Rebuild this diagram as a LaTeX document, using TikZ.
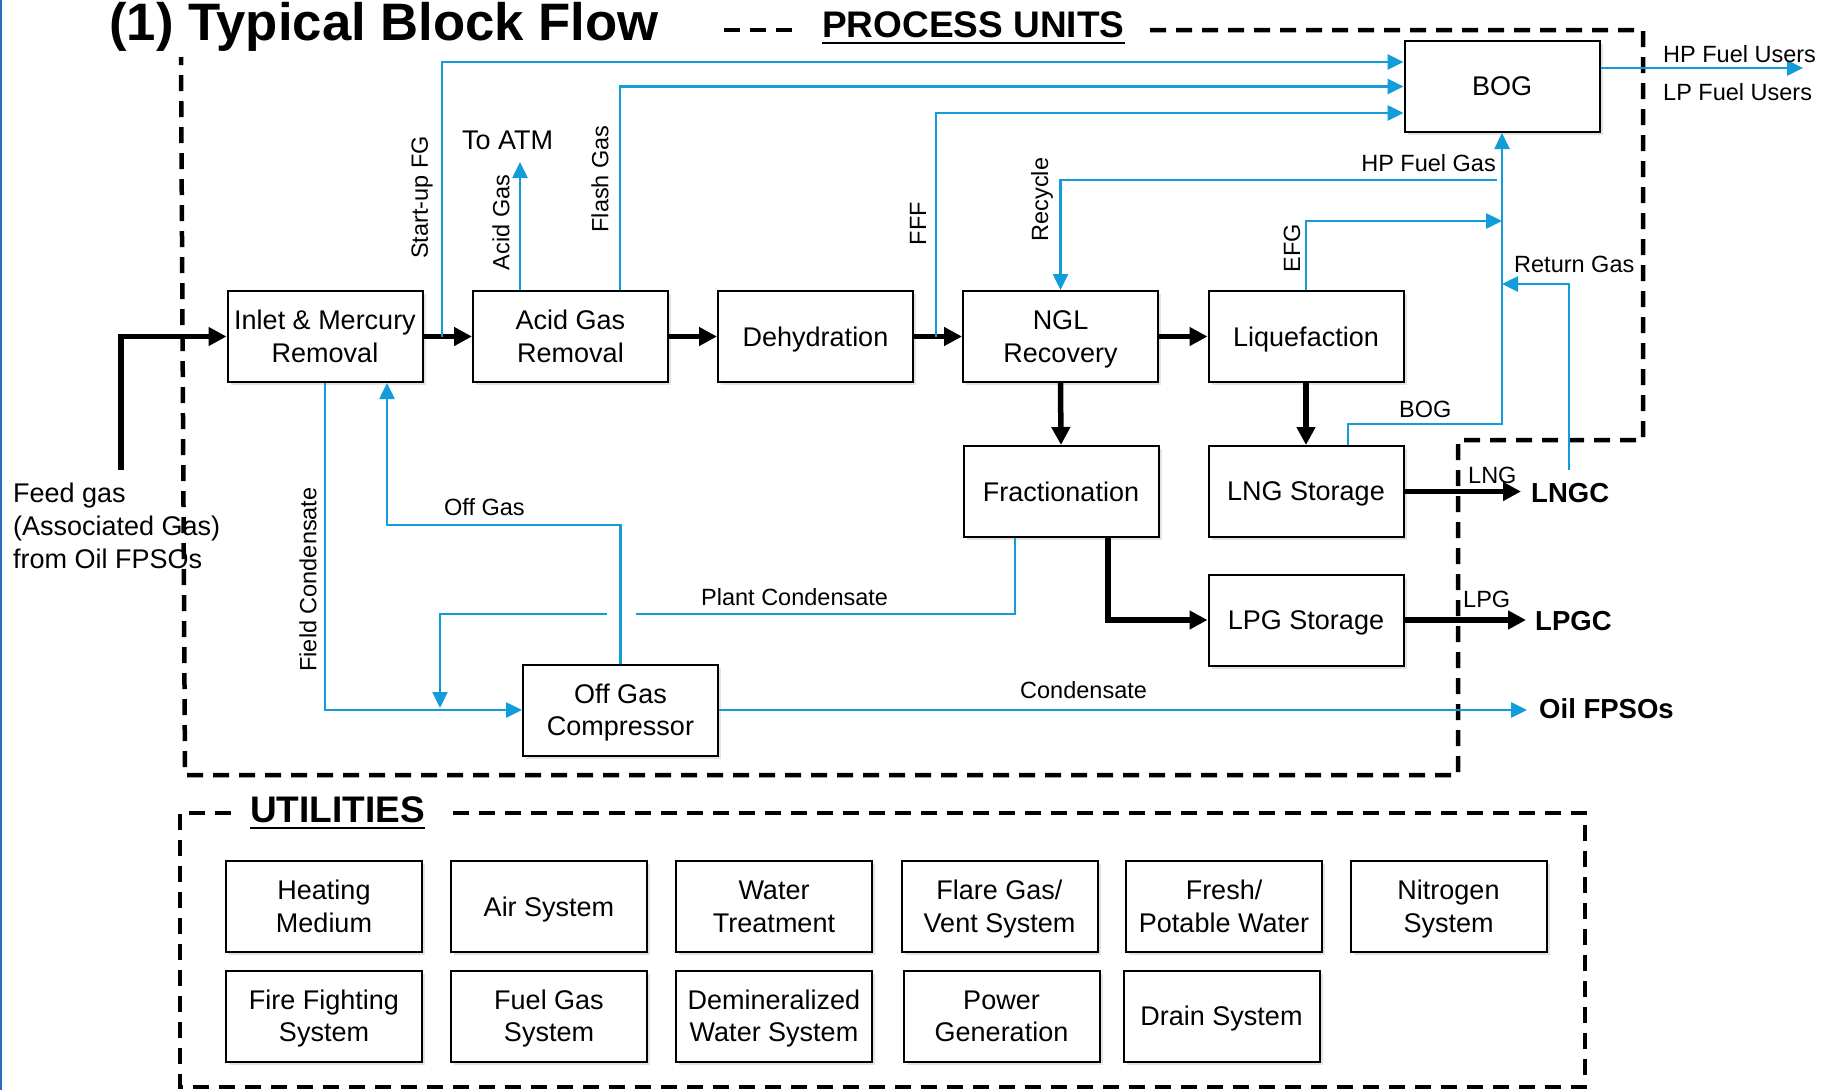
\documentclass[tikz,border=0pt]{standalone}
\usepackage{fontspec}
\setmainfont{Liberation Sans}
\usetikzlibrary{arrows.meta,shadows,calc}
\definecolor{flowblue}{RGB}{18,157,218}
\definecolor{edgeblue}{RGB}{40,110,190}
\newcommand\twoline[2]{\smash{#1}\rule{0pt}{19.3pt}\\\smash{#2}}
\begin{document}
\begin{tikzpicture}[x=1pt,y=-1pt,
  box/.style={draw=black,line width=2pt,fill=white,minimum width=195pt,minimum height=91pt,inner sep=2pt,align=center,
    font=\fontsize{27}{32.5}\selectfont,drop shadow={opacity=0.22,shadow xshift=3pt,shadow yshift=-3pt}},
  one/.style={text depth=0pt},
  ubox/.style={box,minimum width=196pt},
  lbl/.style={inner sep=0pt,font=\fontsize{23.5}{28}\selectfont},
  vlbl/.style={lbl,rotate=90},
  big/.style={inner sep=0pt,font=\bfseries\fontsize{27.5}{33}\selectfont},
  mainflow/.style={line width=5.5pt,-{Triangle[length=18pt,width=18pt]}},
  bflow/.style={draw=flowblue,line width=2.6pt,-{Triangle[length=16pt,width=15pt]}},
  bline/.style={draw=flowblue,line width=2.6pt},
  dashbox/.style={line width=4.5pt,dash pattern=on 16pt off 10pt},
  head/.style={inner sep=0pt,font=\bfseries\fontsize{37}{40}\selectfont},
]
\useasboundingbox (0,0) rectangle (1824,1090);
\draw[edgeblue,line width=2pt] (1,0) -- (1,1090);

% ---------- boundaries ----------
\draw[dashbox] (1150,30) -- (1643,30) -- (1643,440) -- (1458,440) -- (1458,775) -- (185,775) -- (181,57);
\draw[dashbox] (724,30) -- (802,30);
\draw[dashbox] (231,813) -- (180,813) -- (180,1087) -- (1585,1087) -- (1585,813) -- (448,813);

% ---------- titles ----------
\node[inner sep=0pt,anchor=base west,font=\bfseries\fontsize{52.7}{60}\selectfont] (title) at (109,40) {(1) Typical Block Flow};
\node[head,anchor=base west] (pu) at (822,37) {PROCESS UNITS};
\draw[line width=2.5pt] ([yshift=-6pt]pu.base west) -- ([yshift=-6pt]pu.base east);
\node[head,anchor=base west] (ut) at (250,822) {UTILITIES};
\draw[line width=2.5pt] ([yshift=-6pt]ut.base west) -- ([yshift=-6pt]ut.base east);

% ---------- process boxes ----------
\node[box] (inlet) at (325,336.5) {\twoline{Inlet \& Mercury}{Removal}};
\node[box] (agr) at (570.5,336.5) {\twoline{Acid Gas}{Removal}};
\node[box,one] (dehy) at (815.5,336.5) {Dehydration};
\node[box] (ngl) at (1060.5,336.5) {\twoline{NGL}{Recovery}};
\node[box,one] (liq) at (1306,336.5) {Liquefaction};
\node[box,one] (bog) at (1502,86.5) {BOG};
\node[box,one] (frac) at (1061,491.5) {Fractionation};
\node[box,one] (lngs) at (1306,491.5) {LNG Storage};
\node[box,one] (lpgs) at (1306,620) {LPG Storage};
\node[box] (ogc) at (620.5,710) {\twoline{Off Gas}{Compressor}};

% ---------- utility boxes ----------
\node[ubox] (u1) at (324,906.5) {\twoline{Heating}{Medium}};
\node[ubox,one] (u2) at (549,906.5) {Air System};
\node[ubox] (u3) at (774,906.5) {\twoline{Water}{Treatment}};
\node[ubox] (u4) at (999.5,906.5) {\twoline{Flare Gas/}{Vent System}};
\node[ubox] (u5) at (1224,906.5) {\twoline{Fresh/}{Potable Water}};
\node[ubox] (u6) at (1448.5,906.5) {\twoline{Nitrogen}{System}};
\node[ubox] (u7) at (324,1016) {\twoline{Fire Fighting}{System}};
\node[ubox] (u8) at (549,1016) {\twoline{Fuel Gas}{System}};
\node[ubox] (u9) at (774,1016) {\twoline{Demineralized}{Water System}};
\node[ubox] (u10) at (1001.5,1016) {\twoline{Power}{Generation}};
\node[ubox,one] (u11) at (1221.5,1016) {Drain System};

% ---------- free ends ----------
\coordinate (feedin) at (121,470);
\coordinate (sfg) at (442,336.5);
\coordinate (fff) at (936,336.5);
\coordinate (atmtip) at (520,162);
\coordinate (hpfg) at (1497,180);
\coordinate (efgtip) at (1502,221);
\coordinate (rgstart) at (1569,470);
\coordinate (rgtip) at (1502,284);
\coordinate (fueltip) at (1803,68);
\coordinate (lngtip) at (1521,491.5);
\coordinate (lpgtip) at (1526,620);
\coordinate (condtip) at (1527,710);
\coordinate (pcgapR) at (636,614);
\coordinate (pcgapL) at (607,614);
\coordinate (pctip) at (440,708);

% ---------- main (black) flow ----------
\draw[mainflow] (feedin) |- (inlet.west);
\draw[mainflow] (inlet.east) -- (agr.west);
\draw[mainflow] (agr.east) -- (dehy.west);
\draw[mainflow] (dehy.east) -- (ngl.west);
\draw[mainflow] (ngl.east) -- (liq.west);
\draw[mainflow] (ngl.south) -- (frac.north);
\draw[mainflow] (liq.south) -- (lngs.north);
\draw[mainflow] ($(frac.south)+(47,0)$) |- (lpgs.west);
\draw[mainflow] (lngs.east) -- (lngtip);
\draw[mainflow] (lpgs.east) -- (lpgtip);

% ---------- blue flows ----------
\draw[bflow] (sfg) |- ($(bog.west)+(0,-24.5)$);
\draw[bflow] ($(agr.north)+(49.5,0)$) |- (bog.west);
\draw[bflow] (fff) |- ($(bog.west)+(0,26.5)$);
\draw[bflow] ($(agr.north)+(-50.5,0)$) -- (atmtip);
\draw[bflow] (hpfg) -| (ngl.north);
\draw[bflow] (liq.north) |- (efgtip);
\draw[bflow] ($(lngs.north)+(42,0)$) -- ++(0,-21) -| (bog.south);
\draw[bflow] (rgstart) |- (rgtip);
\draw[bflow] ($(bog.east)+(0,-18.5)$) -- (fueltip);
\draw[bflow] (inlet.south) |- (ogc.west);
\draw[bflow] (ogc.north) |- ($(inlet.south)+(62,142)$) -- ($(inlet.south)+(62,0)$);
\draw[bline,line width=2pt] ($(frac.south)+(-46,0)$) |- (pcgapR);
\draw[bflow,line width=2pt] (pcgapL) -| (pctip);
\draw[bflow] (ogc.east) -- (condtip);

% ---------- labels ----------
\node[vlbl] (lsfg) at (422,197.5) {Start-up FG};
\node[vlbl] (lag) at (501,222.5) {Acid Gas};
\node[vlbl] (lfg) at (600,179) {Flash Gas};
\node[vlbl] (lfff) at (918,223.5) {FFF};
\node[vlbl] (lrec) at (1042,199.5) {Recycle};
\node[vlbl] (lefg) at (1292,248) {EFG};
\node[vlbl] (lfc) at (308,579.5) {Field Condensate};

\node[inner sep=0pt,anchor=base west,font=\fontsize{27}{32}\selectfont] (atm) at (462,149.5) {To ATM};
\node[lbl,anchor=base east] (lhp) at (1496,171) {HP Fuel Gas};
\node[lbl,anchor=base west] (lbog) at (1399,417) {BOG};
\node[lbl,anchor=base west] (lrg) at (1514,272) {Return Gas};
\node[lbl,anchor=base west] (lhpu) at (1663,62) {HP Fuel Users};
\node[lbl,anchor=base west] (llpu) at (1663,100) {LP Fuel Users};
\node[lbl,anchor=base west] (llng) at (1468,483) {LNG};
\node[lbl,anchor=base west] (llpg) at (1463,607) {LPG};
\node[lbl,anchor=base west] (lcond) at (1020,698) {Condensate};
\node[lbl,anchor=base west] (lpc) at (701,605) {Plant Condensate};
\node[lbl,anchor=base west] (log) at (444,515) {Off Gas};

\node[big,anchor=base west] (lngc) at (1531,502) {LNGC};
\node[big,anchor=base west] (lpgc) at (1535,630) {LPGC};
\node[big,anchor=base west] (fpso) at (1539,718) {Oil FPSOs};

\node[inner sep=0pt,anchor=north west,align=left,font=\fontsize{27}{33}\selectfont] (feed) at (13,482.5) {Feed gas\\(Associated Gas)\\from Oil FPSOs};
\end{tikzpicture}
\end{document}
